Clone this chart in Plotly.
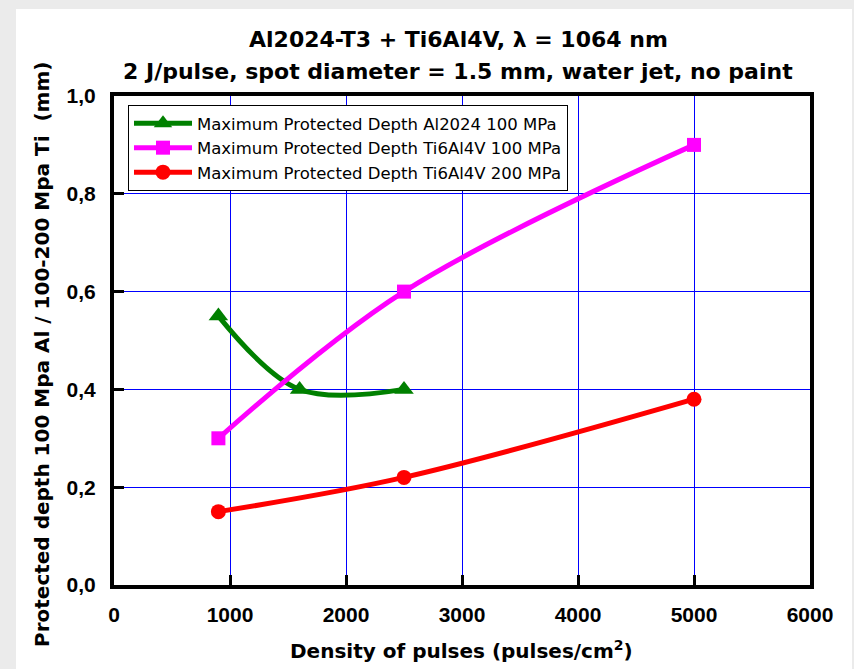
import plotly.graph_objects as go

# Pulse densities (pulses/cm^2) and maximum protected depths (mm)
density_al2024 = [900, 1600, 2500]
depth_al2024_100 = [0.55, 0.40, 0.40]

density_ti = [900, 2500, 5000]
depth_ti_100 = [0.30, 0.60, 0.90]
depth_ti_200 = [0.15, 0.22, 0.38]

series_names = [
    "Maximum Protected Depth Al2024 100 MPa",
    "Maximum Protected Depth Ti6Al4V 100 MPa",
    "Maximum Protected Depth Ti6Al4V 200 MPa",
]

x_ticks = [0, 1000, 2000, 3000, 4000, 5000, 6000]
y_ticks = [0.0, 0.2, 0.4, 0.6, 0.8, 1.0]

W, H = 854, 669
ML, MR, MT, MB = 114, 44, 96, 84
PW, PH = W - ML - MR, H - MT - MB


def px(xpix):
    return (xpix - ML) / PW


def py(ypix):
    return (H - MB - ypix) / PH


fig = go.Figure()

fig.add_trace(go.Scatter(
    x=density_al2024, y=depth_al2024_100, name=series_names[0],
    mode="lines+markers",
    line=dict(color="#008000", width=5, shape="spline", smoothing=1),
    marker=dict(symbol="triangle-up", size=17, color="#008000"),
))
fig.add_trace(go.Scatter(
    x=density_ti, y=depth_ti_100, name=series_names[1],
    mode="lines+markers",
    line=dict(color="#ff00ff", width=5, shape="spline", smoothing=1),
    marker=dict(symbol="square", size=14, color="#ff00ff"),
))
fig.add_trace(go.Scatter(
    x=density_ti, y=depth_ti_200, name=series_names[2],
    mode="lines+markers",
    line=dict(color="#ff0000", width=5, shape="spline", smoothing=1),
    marker=dict(symbol="circle", size=15, color="#ff0000"),
))

title_font = dict(family="DejaVu Sans", size=22, color="black", weight="bold")
axis_title_font = dict(family="DejaVu Sans", size=20, color="black", weight="bold")
tick_font = dict(family="Liberation Sans, Arial", size=21, color="black", weight="bold")

axis_common = dict(
    showline=True, linewidth=4, linecolor="black", mirror=True,
    showgrid=True, gridcolor="#0000ff", gridwidth=1,
    zeroline=False,
    ticks="inside", ticklen=10, tickwidth=3, tickcolor="black",
    tickfont=tick_font,
)

fig.update_xaxes(range=[0, 6000], tickvals=x_ticks, tickformat="d",
                 ticklabelstandoff=8, **axis_common)
fig.update_yaxes(range=[0, 1.0], tickvals=y_ticks, tickformat=".1f",
                 ticklabelstandoff=10, **axis_common)

annotations = [
    dict(text="Al2024-T3 + Ti6Al4V, \u03bb = 1064 nm",
         x=px(458), y=py(39), xref="paper", yref="paper",
         xanchor="center", yanchor="middle", showarrow=False, font=title_font),
    dict(text="2 J/pulse, spot diameter = 1.5 mm, water jet, no paint",
         x=px(458), y=py(71), xref="paper", yref="paper",
         xanchor="center", yanchor="middle", showarrow=False, font=title_font),
    dict(text="Density of pulses (pulses/cm<sup>2</sup>)",
         x=px(461), y=py(650), xref="paper", yref="paper",
         xanchor="center", yanchor="middle", showarrow=False, font=axis_title_font),
    dict(text="Protected depth 100 Mpa Al / 100-200 Mpa Ti \u00a0(mm)",
         x=px(42), y=py(355), xref="paper", yref="paper", textangle=-90,
         xanchor="center", yanchor="middle", showarrow=False, font=axis_title_font),
]

# White card on the light grey page
shapes = [
    dict(type="rect", xref="paper", yref="paper",
         x0=px(16), x1=px(852), y0=py(H + 5), y1=py(9),
         fillcolor="white", line=dict(width=0), layer="below"),
]

fig.update_layout(
    width=W, height=H,
    margin=dict(l=ML, r=MR, t=MT, b=MB, pad=0),
    paper_bgcolor="#ebebeb",
    plot_bgcolor="white",
    separators=",.",
    showlegend=True,
    legend=dict(
        x=px(128), y=py(105), xanchor="left", yanchor="top",
        bgcolor="white", bordercolor="black", borderwidth=1,
        font=dict(family="DejaVu Sans", size=16.5, color="black"),
        itemwidth=58,
        tracegroupgap=0,
    ),
    annotations=annotations,
    shapes=shapes,
)

fig.write_html("out.html")
